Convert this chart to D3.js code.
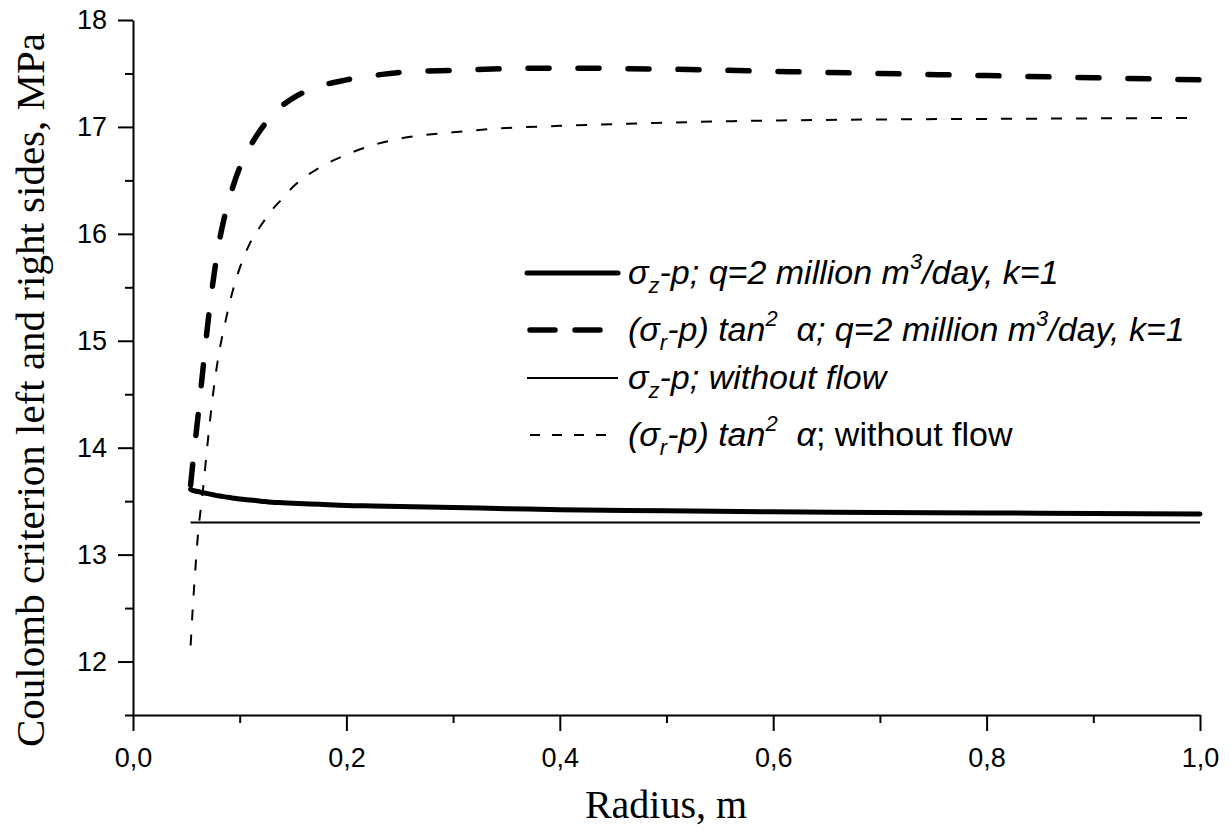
<!DOCTYPE html>
<html>
<head>
<meta charset="utf-8">
<script src="https://cdn.jsdelivr.net/npm/d3@7"></script>
<style>
  body { margin: 0; background: #fff; }
  svg { display: block; }
</style>
</head>
<body>
<script>
// radius grid (m) shared by the four curves
const radius = [0.054, 0.056, 0.058, 0.061, 0.065, 0.07, 0.075, 0.08, 0.086, 0.093,
    0.1, 0.11, 0.12, 0.13, 0.14, 0.15, 0.175, 0.2, 0.225, 0.25,
    0.3, 0.35, 0.4, 0.5, 0.6, 0.7, 0.8, 0.9, 1.0]

// sigma_z - p, q = 2 million m3/day
const flowZ = [13.61, 13.60, 13.595, 13.59, 13.58, 13.57, 13.56, 13.55, 13.54, 13.53,
    13.52, 13.51, 13.50, 13.49, 13.485, 13.48, 13.47, 13.46, 13.455, 13.45,
    13.44, 13.43, 13.42, 13.41, 13.40, 13.395, 13.39, 13.385, 13.38]

// (sigma_r - p) tan^2 alpha, q = 2 million m3/day
const flowR = [13.65, 13.85, 14.03, 14.3, 14.68, 15.15, 15.55, 15.88, 16.17, 16.42,
    16.62, 16.82, 16.98, 17.10, 17.20, 17.27, 17.38, 17.44, 17.48, 17.51,
    17.53, 17.545, 17.55, 17.54, 17.52, 17.50, 17.48, 17.46, 17.44]

// sigma_z - p, without flow
const noFlowZ = [13.30, 13.30, 13.30, 13.30, 13.30, 13.30, 13.30, 13.30, 13.30, 13.30,
    13.30, 13.30, 13.30, 13.30, 13.30, 13.30, 13.30, 13.30, 13.30, 13.30,
    13.30, 13.30, 13.30, 13.30, 13.30, 13.30, 13.30, 13.30, 13.30]

// (sigma_r - p) tan^2 alpha, without flow
const noFlowR = [12.15, 12.5, 12.8, 13.2, 13.55, 14.05, 14.5, 14.85, 15.15, 15.45,
    15.68, 15.92, 16.08, 16.22, 16.33, 16.44, 16.62, 16.74, 16.83, 16.89,
    16.95, 16.99, 17.01, 17.04, 17.06, 17.07, 17.075, 17.08, 17.085]

const xMajor = [0, 0.2, 0.4, 0.6, 0.8, 1.0]
const xMinor = [0.1, 0.3, 0.5, 0.7, 0.9]
const yMajor = [12, 13, 14, 15, 16, 17, 18]
const yMinor = [11.5, 12.5, 13.5, 14.5, 15.5, 16.5, 17.5]

const xTitle = "Radius, m"
const yTitle = "Coulomb criterion left and right sides, MPa"

// legend labels: [text, "sub"|"sup"|"", italic]
const legendLabels = [
    [["\u03c3", "", 1], ["z", "sub", 1], ["-p; q=2 million m", "", 1], ["3", "sup", 1], ["/day, k=1", "", 1]],
    [["(\u03c3", "", 1], ["r", "sub", 1], ["-p) tan", "", 1], ["2", "sup", 1], ["  \u03b1; q=2 million m", "", 1], ["3", "sup", 1], ["/day, k=1", "", 1]],
    [["\u03c3", "", 1], ["z", "sub", 1], ["-p; without flow", "", 1]],
    [["(\u03c3", "", 1], ["r", "sub", 1], ["-p) tan", "", 1], ["2", "sup", 1], ["  \u03b1", "", 1], ["; without flow", "", 0]]
]

const W = 1231, H = 830
const margin = { top: 20, right: 31, bottom: 115, left: 133 }

const sans = "'Liberation Sans', Arial, sans-serif"
const serif = "'Liberation Serif', 'Times New Roman', serif"

const svg = d3.select("body").append("svg")
    .attr("width", W)
    .attr("height", H)

const x = d3.scaleLinear().domain([0, 1]).range([margin.left, W - margin.right])
const y = d3.scaleLinear().domain([11.5, 18]).range([H - margin.bottom, margin.top])

const series = [
    { values: flowZ, width: 5, dash: null, cap: "round", legendDash: null },
    { values: flowR, width: 5.5, dash: "21,29", cap: "round", legendDash: "25,20,25,60" },
    { values: noFlowZ, width: 2, dash: null, cap: "butt", legendDash: null },
    { values: noFlowR, width: 2, dash: "11,14", cap: "butt", legendDash: "10,12" }
]

const line = d3.line()
    .x((d, i) => x(radius[i]))
    .y(d => y(d))
    .curve(d3.curveMonotoneX)

svg.append("g").selectAll("path")
    .data(series)
    .enter()
    .append("path")
    .attr("d", d => line(d.values))
    .attr("fill", "none")
    .attr("stroke", "#000")
    .attr("stroke-width", d => d.width)
    .attr("stroke-dasharray", d => d.dash)
    .attr("stroke-linecap", d => d.cap)
    .attr("stroke-linejoin", "round")

// axes
svg.append("g")
    .attr("transform", `translate(0, ${H - margin.bottom})`)
    .call(d3.axisBottom(x).tickValues(xMajor).tickSize(16).tickSizeOuter(0).tickPadding(17)
        .tickFormat(d => d3.format(".1f")(d).replace(".", ",")))
svg.append("g")
    .attr("transform", `translate(0, ${H - margin.bottom})`)
    .call(d3.axisBottom(x).tickValues(xMinor).tickSize(8).tickSizeOuter(0).tickFormat(""))
    .select(".domain").remove()

svg.append("g")
    .attr("transform", `translate(${margin.left}, 0)`)
    .call(d3.axisLeft(y).tickValues(yMajor).tickSize(15).tickSizeOuter(0).tickPadding(11)
        .tickFormat(d3.format("d")))
svg.append("g")
    .attr("transform", `translate(${margin.left}, 0)`)
    .call(d3.axisLeft(y).tickValues(yMinor).tickSize(8).tickSizeOuter(0).tickFormat(""))
    .select(".domain").remove()

svg.selectAll(".domain, .tick line")
    .attr("stroke", "#000")
    .attr("stroke-width", 2)
svg.selectAll(".tick text")
    .style("font-family", sans)
    .style("font-size", "27px")
    .attr("fill", "#000")

// titles
svg.append("text")
    .attr("x", 666)
    .attr("y", 818)
    .attr("text-anchor", "middle")
    .style("font-family", serif)
    .style("font-size", "40px")
    .text(xTitle)

svg.append("text")
    .attr("transform", "translate(44, 390) rotate(-90)")
    .attr("text-anchor", "middle")
    .style("font-family", serif)
    .style("font-size", "41px")
    .text(yTitle)

// legend
const legend = svg.append("g")
let rowY = 273
legendLabels.forEach((segs, i) => {
    if (i > 0) rowY += 48 + (segs.some(s => s[1] == "sup") ? 9 : 0)
    const s = series[i]
    legend.append("line")
        .attr("x1", s.legendDash ? 530 : 527)
        .attr("x2", 618)
        .attr("y1", rowY)
        .attr("y2", rowY)
        .attr("stroke", "#000")
        .attr("stroke-width", s.width)
        .attr("stroke-dasharray", s.legendDash)
        .attr("stroke-linecap", s.cap)

    const t = legend.append("text")
        .attr("x", 628)
        .attr("y", rowY + 11)
        .style("font-family", sans)
        .style("font-size", "34px")
    let shift = 0
    segs.forEach(([txt, kind, it]) => {
        const target = kind == "sub" ? 9 : kind == "sup" ? -15 : 0
        t.append("tspan")
            .attr("dy", target - shift)
            .style("font-size", kind ? "22px" : "34px")
            .style("font-style", it ? "italic" : "normal")
            .style("white-space", "pre")
            .text(txt)
        shift = target
    })
})
</script>
</body>
</html>
